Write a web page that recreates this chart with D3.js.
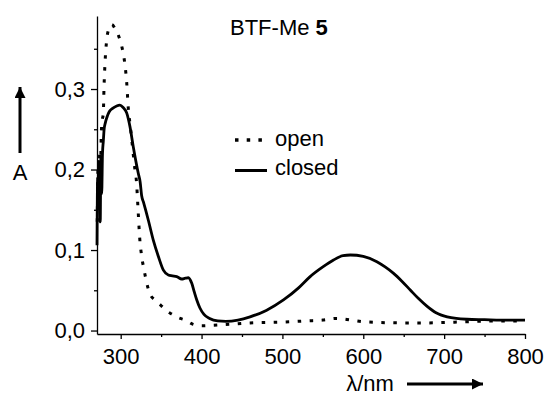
<!DOCTYPE html>
<html>
<head>
<meta charset="utf-8">
<script src="https://cdn.jsdelivr.net/npm/d3@7"></script>
<style>
  body { margin: 0; background: #fff; }
  svg { display: block; font-family: Arial, "Liberation Sans", sans-serif; }
  .axis path, .axis line { stroke: #000; stroke-width: 1.3; }
  .axis text { font-size: 22px; fill: #000; }
</style>
</head>
<body>
<div id="container"></div>
<script>
const w = 549;
const h = 406;
const margin = { top: 16, right: 24, bottom: 72, left: 97 };
const width = w - margin.left - margin.right;
const height = h - margin.top - margin.bottom;

// open form (dotted)
const openWl = [271, 272, 273, 274, 275, 276, 277, 278.5, 279.4, 280.6, 282.7, 285.5, 289, 293, 297,
  301.3, 304.5, 307.5, 309.4, 312, 314.4, 317.7, 319.5, 321.5, 323.5, 326, 329, 332, 336, 342,
  349, 356, 363, 371, 380, 389, 400, 420, 440, 460, 480, 500, 530, 550, 567, 585, 600, 620,
  650, 680, 700, 730, 760, 800];
const openA = [0.135, 0.20, 0.15, 0.22, 0.20, 0.245, 0.26, 0.27, 0.303, 0.332, 0.361, 0.375, 0.380, 0.375, 0.367,
  0.353, 0.336, 0.307, 0.276, 0.253, 0.230, 0.199, 0.185, 0.150, 0.115, 0.092, 0.075, 0.060, 0.046, 0.038,
  0.032, 0.025, 0.0205, 0.016, 0.013, 0.008, 0.006, 0.007, 0.008, 0.0095, 0.010, 0.0105, 0.012, 0.013, 0.015, 0.013, 0.011, 0.010,
  0.0095, 0.0095, 0.010, 0.011, 0.012, 0.012];

// closed form (solid)
const closedWl = [270.7, 271.5, 272, 272.7, 273.3, 274, 274.7, 275.5, 276.5, 277.5, 278.5, 279.5, 281, 283, 286,
  290, 295, 299, 303, 307.5, 311.5, 315.6, 321.8, 324, 326, 328, 334.2, 340.4, 346.6, 352.8,
  358.9, 364, 369.3, 375.5, 380, 383.7, 387.9, 391, 394.1, 398, 403, 410, 420, 430, 445,
  460, 480, 501.3, 520, 534.3, 550, 563.2, 575, 584, 600, 616.8, 627, 637.5, 648, 658.4,
  668, 679, 690, 703.8, 715, 728.5, 750, 770, 800];
const closedA = [0.106, 0.19, 0.155, 0.21, 0.16, 0.20, 0.135, 0.215, 0.17, 0.22, 0.235, 0.25, 0.258, 0.265, 0.272,
  0.276, 0.279, 0.280, 0.277, 0.270, 0.253, 0.228, 0.195, 0.185, 0.167, 0.160, 0.137, 0.112, 0.092, 0.075,
  0.069, 0.068, 0.067, 0.064, 0.065, 0.0656, 0.0586, 0.048, 0.038, 0.028, 0.020, 0.015, 0.012, 0.0115, 0.013,
  0.017, 0.025, 0.038, 0.053, 0.067, 0.079, 0.0876, 0.093, 0.0938, 0.092, 0.0855, 0.079, 0.071, 0.061, 0.050,
  0.040, 0.030, 0.022, 0.017, 0.015, 0.014, 0.0135, 0.013, 0.013];

const xMajor = [300, 400, 500, 600, 700, 800];
const xMinor = [350, 450, 550, 650, 750];
const yMajor = [0.0, 0.1, 0.2, 0.3];
const yMinor = [0.05, 0.15, 0.25, 0.35];

const svg = d3.select('#container')
  .append('svg')
  .attr('width', w)
  .attr('height', h);

const g = svg.append('g')
  .attr('transform', `translate(${margin.left}, ${margin.top})`);

const xScale = d3.scaleLinear().domain([270.7, 800]).range([0, width]);
const yScale = d3.scaleLinear().domain([-0.0043, 0.3907]).range([height, 0]);

// minor ticks first, majors with labels on top
g.append('g')
  .attr('class', 'axis')
  .attr('transform', `translate(0, ${height})`)
  .call(d3.axisBottom(xScale).tickValues(xMinor).tickSize(3).tickFormat(''))
  .select('.domain').remove();
g.append('g')
  .attr('class', 'axis')
  .attr('transform', `translate(0, ${height})`)
  .call(d3.axisBottom(xScale).tickValues(xMajor).tickSize(5).tickSizeOuter(0).tickPadding(9));

g.append('g')
  .attr('class', 'axis')
  .call(d3.axisLeft(yScale).tickValues(yMinor).tickSize(3).tickFormat(''))
  .select('.domain').remove();
g.append('g')
  .attr('class', 'axis')
  .call(d3.axisLeft(yScale).tickValues(yMajor).tickSize(6).tickSizeOuter(0).tickPadding(6)
    .tickFormat(d => d3.format('.1f')(d).replace('.', ',')));

const line = d3.line()
  .x(d => xScale(d[0]))
  .y(d => yScale(d[1]))
  .curve(d3.curveMonotoneX);

g.append('path')
  .datum(closedWl.map((v, i) => [v, closedA[i]]))
  .attr('fill', 'none')
  .attr('stroke', '#000')
  .attr('stroke-width', 2.8)
  .attr('stroke-linejoin', 'round')
  .attr('d', line);

g.append('path')
  .datum(openWl.map((v, i) => [v, openA[i]]))
  .attr('fill', 'none')
  .attr('stroke', '#000')
  .attr('stroke-width', 3)
  .attr('stroke-dasharray', '3.5,8.5')
  .attr('d', line);

// title
const title = svg.append('text')
  .attr('x', 230)
  .attr('y', 35)
  .style('font-size', '22px');
title.append('tspan').text('BTF-Me ');
title.append('tspan').style('font-weight', 'bold').text('5');

// legend
svg.append('line')
  .attr('x1', 235).attr('x2', 262).attr('y1', 140).attr('y2', 140)
  .attr('stroke', '#000').attr('stroke-width', 3.5).attr('stroke-dasharray', '3.5,8.2');
svg.append('text').attr('x', 275).attr('y', 146).style('font-size', '22px').text('open');
svg.append('line')
  .attr('x1', 235).attr('x2', 267).attr('y1', 170.5).attr('y2', 170.5)
  .attr('stroke', '#000').attr('stroke-width', 3);
svg.append('text').attr('x', 275).attr('y', 175).style('font-size', '22px').text('closed');

// axis titles with arrows
svg.append('defs').append('marker')
  .attr('id', 'arrow')
  .attr('viewBox', '0 0 10 10')
  .attr('refX', 10).attr('refY', 5)
  .attr('markerUnits', 'userSpaceOnUse')
  .attr('markerWidth', 15).attr('markerHeight', 11)
  .attr('orient', 'auto')
  .append('path')
  .attr('d', 'M0,0 L10,5 L0,10 Z')
  .attr('fill', '#000');

svg.append('line')
  .attr('x1', 20).attr('x2', 20).attr('y1', 153).attr('y2', 87)
  .attr('stroke', '#000').attr('stroke-width', 3)
  .attr('marker-end', 'url(#arrow)');
svg.append('text')
  .attr('x', 20).attr('y', 180)
  .attr('text-anchor', 'middle')
  .style('font-size', '22px')
  .text('A');

svg.append('text')
  .attr('x', 370).attr('y', 391)
  .attr('text-anchor', 'middle')
  .style('font-size', '22px')
  .text('λ/nm');
svg.append('line')
  .attr('x1', 407).attr('x2', 483).attr('y1', 384).attr('y2', 384)
  .attr('stroke', '#000').attr('stroke-width', 3)
  .attr('marker-end', 'url(#arrow)');
</script>
</body>
</html>
